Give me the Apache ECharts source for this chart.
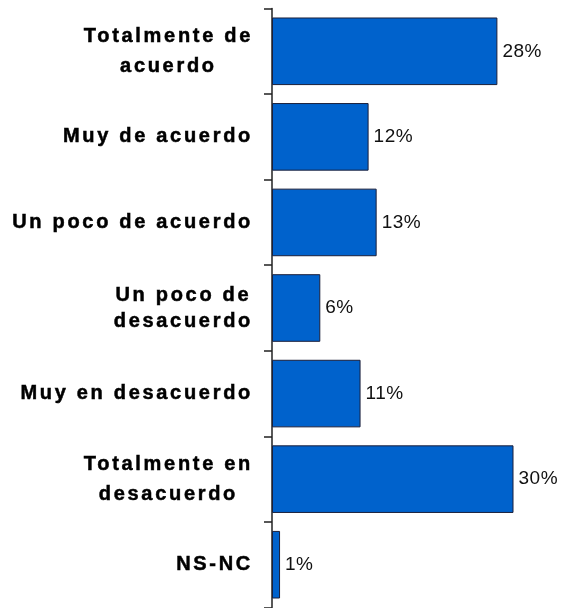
<!DOCTYPE html>
<html>
<head>
<meta charset="utf-8">
<script src="https://cdn.jsdelivr.net/npm/echarts@6/dist/echarts.min.js"></script>
<style>
  html, body { margin: 0; padding: 0; background: #fff; }
  #chart { width: 564px; height: 608px; }
</style>
</head>
<body>
<div id="chart"></div>
<script>
// spaced-out bold labels like the original: canvas letterSpacing follows the font
var fontDesc = Object.getOwnPropertyDescriptor(CanvasRenderingContext2D.prototype, 'font')
Object.defineProperty(CanvasRenderingContext2D.prototype, 'font', {
  get: function () { return fontDesc.get.call(this) },
  set: function (v) {
    fontDesc.set.call(this, v)
    if ('letterSpacing' in this) {
      this.letterSpacing = /bold/.test(v) ? '2.7px' : '0.5px'
    }
  }
})

var categories = [
  'Totalmente de\nacuerdo',
  'Muy de acuerdo',
  'Un poco de acuerdo',
  'Un poco de\ndesacuerdo',
  'Muy en desacuerdo',
  'Totalmente en\ndesacuerdo',
  'NS-NC'
]
var values = [28, 12, 13, 6, 11, 30, 1]

var chart = echarts.init(document.getElementById('chart'))

var labelFont = {
  fontFamily: 'Liberation Sans, Arial, sans-serif',
  fontSize: 20,
  fontWeight: 'bold',
  color: '#000',
  textBorderColor: '#000',
  textBorderWidth: 0.5
}

chart.setOption({
  animation: false,
  grid: {
    left: 272,
    top: 8.5,
    width: 281.75,
    height: 599
  },
  xAxis: {
    type: 'value',
    min: 0,
    max: 35,
    show: false
  },
  yAxis: {
    type: 'category',
    inverse: true,
    data: categories,
    axisLine: { show: true, lineStyle: { color: '#222', width: 1.5 } },
    axisTick: { show: true, length: 8, lineStyle: { color: '#222', width: 1.5 } },
    axisLabel: Object.assign({}, labelFont, {
      interval: 0,
      margin: 19,
      align: 'right',
      formatter: function (v) {
        if (v.indexOf('\n') < 0) return v
        var key = v.indexOf('Totalmente') === 0 ? 'a' : 'b'
        return v.split('\n').map(function (s) { return '{' + key + '|' + s + '}' }).join('\n')
      },
      rich: {
        a: Object.assign({}, labelFont, { align: 'center', lineHeight: 30 }),
        b: Object.assign({}, labelFont, { align: 'center', lineHeight: 26 })
      }
    })
  },
  series: [{
    type: 'bar',
    data: values,
    barCategoryGap: '21%',
    itemStyle: {
      color: '#0062CC',
      borderColor: '#1a1f3a',
      borderWidth: 1
    },
    label: {
      show: true,
      position: 'right',
      distance: 5,
      formatter: '{c}%',
      fontFamily: 'Liberation Sans, Arial, sans-serif',
      fontSize: 19,
      color: '#111'
    }
  }]
})
</script>
</body>
</html>
